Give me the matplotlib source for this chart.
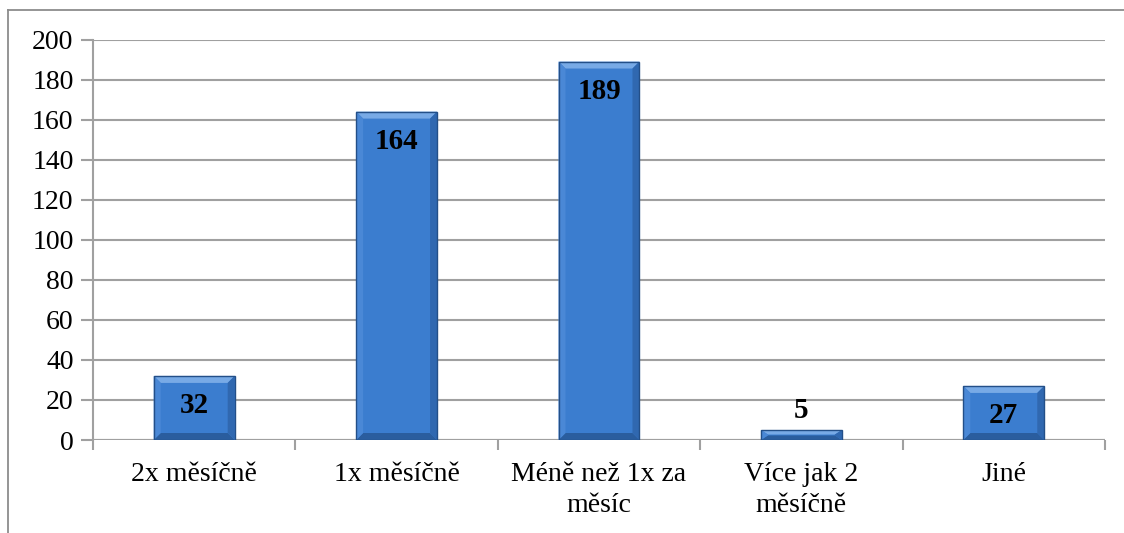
import matplotlib
matplotlib.use("Agg")
import matplotlib.pyplot as plt
import numpy as np
from matplotlib.patches import Rectangle, Polygon

categories = ["2x měsíčně", "1x měsíčně", "Méně než 1x za\nměsíc", "Více jak 2\nměsíčně", "Jiné"]
values = [32, 164, 189, 5, 27]
yticks = [0, 20, 40, 60, 80, 100, 120, 140, 160, 180, 200]

plt.rcParams['font.family'] = ['Liberation Serif', 'DejaVu Serif']

W, H = 1124, 533
fig = plt.figure(figsize=(W/100, H/100), dpi=100)
ax = fig.add_axes([93/W, 1-440/H, (1105-93)/W, (440-39.5)/H])

grid_c = '#a0a0a0'
n = len(categories)
ax.set_xlim(0, n)
ax.set_ylim(0, 200)
ax.set_yticks(yticks)
ax.yaxis.grid(True, color=grid_c, lw=1.5)
ax.set_axisbelow(True)
for s in ['top', 'right', 'bottom']:
    ax.spines[s].set_visible(False)
ax.spines['left'].set_color(grid_c)
ax.spines['left'].set_linewidth(1.5)
ax.tick_params(axis='y', length=9, width=1.5, color=grid_c, labelsize=20, pad=5)
ax.set_xticks(np.arange(n+1))
ax.set_xticklabels([])
ax.tick_params(axis='x', length=7, width=1.5, color=grid_c, direction='out')
ax.axhline(0, color=grid_c, lw=1.5, zorder=3)
for i, c in enumerate(categories):
    ax.annotate(c, (i+0.5, 0), xytext=(0, -22), textcoords='offset pixels',
                ha='center', va='top', fontsize=20, linespacing=1.3)

bw = 0.4
ppy = (440-39.5)/200
ppx = (1105-93)/n
for i, v in enumerate(values):
    x0 = i + 0.5 - bw/2
    ax.add_patch(Rectangle((x0, 0), bw, v, facecolor='#3b7dcf', edgecolor='none', zorder=4))
    bx = 7/ppx
    by = min(7/ppy, v/2.2)
    x1 = x0 + bw
    top = Polygon([(x0, v), (x1, v), (x1-bx, v-by), (x0+bx, v-by)], closed=True,
                  facecolor='#78aae6', edgecolor='none', zorder=5)
    bot = Polygon([(x0, 0), (x1, 0), (x1-bx, by), (x0+bx, by)], closed=True,
                  facecolor='#2a5d9e', edgecolor='none', zorder=5)
    lft = Polygon([(x0, 0), (x0, v), (x0+bx, v-by), (x0+bx, by)], closed=True,
                  facecolor='#4a88d6', edgecolor='none', zorder=5)
    rgt = Polygon([(x1, 0), (x1, v), (x1-bx, v-by), (x1-bx, by)], closed=True,
                  facecolor='#3068b0', edgecolor='none', zorder=5)
    for p in (top, bot, lft, rgt):
        ax.add_patch(p)
    ax.add_patch(Rectangle((x0, 0), bw, v, facecolor='none', edgecolor='#234f88', lw=1.0, zorder=6))
    if v >= 20:
        ax.annotate(str(v), (i+0.5, v), xytext=(0, -30), textcoords='offset pixels',
                    ha='center', va='center', fontsize=21, fontweight='bold', zorder=7)
    else:
        ax.annotate(str(v), (i+0.5, v), xytext=(0, 19), textcoords='offset pixels',
                    ha='center', va='center', fontsize=21, fontweight='bold', zorder=7)

# outer frame
fig.add_artist(plt.Line2D([7.5/W, 7.5/W], [0, 1-10/H], color='#8c8c8c', lw=1.3))
fig.add_artist(plt.Line2D([7.5/W, 1], [1-10/H, 1-10/H], color='#8c8c8c', lw=1.3))

fig.savefig('out.png', dpi=100)
